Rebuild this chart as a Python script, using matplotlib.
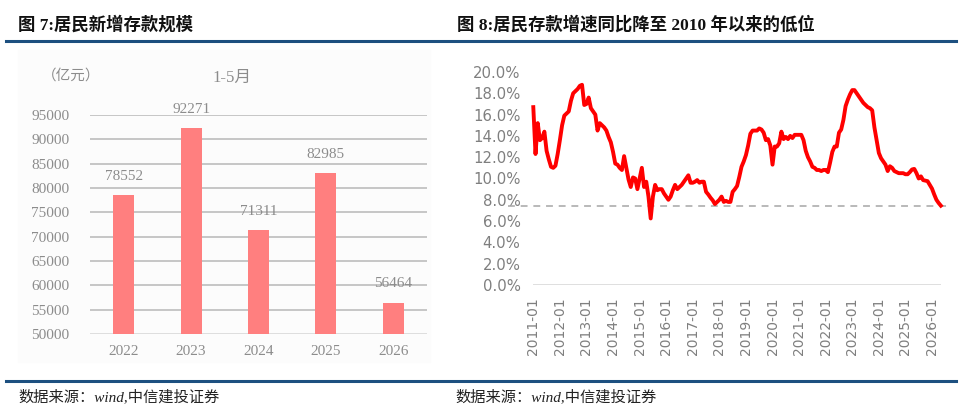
import numpy as np
import matplotlib
matplotlib.use("Agg")
import matplotlib.pyplot as plt
from matplotlib.lines import Line2D

plt.rcParams['font.family'] = ['DejaVu Sans', 'Noto Sans CJK SC']

# ---------------- data ----------------
bar_years = ['2022', '2023', '2024', '2025', '2026']
bar_values = [78552, 92271, 71311, 82985, 56464]
bar_yticks = [50000, 55000, 60000, 65000, 70000, 75000, 80000, 85000, 90000, 95000]

start_year = 2011
growth_2011 = [16.7, 12.3, 15.2, 13.6, 13.8, 14.4, 12.6, 11.8, 11.1, 11.0, 11.2, 12.3]
growth_2012 = [13.6, 15.0, 15.9, 16.1, 16.3, 17.3, 18.0, 18.2, 18.4, 18.7, 18.8, 16.9]
growth_2013 = [17.0, 17.6, 16.6, 16.3, 16.0, 14.5, 15.2, 15.0, 14.8, 14.5, 13.9, 13.4]
growth_2014 = [12.5, 11.4, 11.3, 11.0, 10.8, 12.1, 11.0, 9.9, 9.2, 10.1, 10.0, 9.0]
growth_2015 = [10.0, 11.0, 9.2, 9.7, 8.3, 6.25, 8.3, 9.4, 8.9, 9.0, 9.0, 8.6]
growth_2016 = [8.3, 8.0, 8.3, 8.9, 9.4, 9.0, 9.2, 9.4, 9.7, 10.0, 10.3, 9.6]
growth_2017 = [9.6, 9.7, 9.85, 9.6, 9.7, 9.7, 8.75, 8.5, 8.2, 7.95, 7.6, 7.8]
growth_2018 = [8.0, 8.3, 7.8, 7.9, 7.8, 7.8, 8.75, 9.0, 9.3, 10.15, 11.1, 11.6]
growth_2019 = [12.2, 13.1, 14.2, 14.5, 14.5, 14.5, 14.7, 14.6, 14.3, 13.6, 13.7, 13.1]
growth_2020 = [11.3, 13.0, 13.0, 13.3, 14.4, 13.7, 13.9, 13.7, 14.0, 13.8, 14.1, 14.1]
growth_2021 = [14.1, 14.1, 13.6, 12.6, 12.0, 11.6, 11.1, 11.0, 10.8, 10.8, 10.7, 10.8]
growth_2022 = [10.8, 10.6, 11.5, 12.5, 13.0, 13.0, 14.3, 14.6, 15.5, 16.8, 17.4, 17.9]
growth_2023 = [18.3, 18.3, 18.0, 17.7, 17.4, 17.1, 16.9, 16.7, 16.6, 16.4, 14.8, 13.6]
growth_2024 = [12.4, 11.9, 11.6, 11.3, 10.7, 11.15, 11.0, 10.7, 10.6, 10.5, 10.5, 10.5]
growth_2025 = [10.4, 10.4, 10.6, 10.85, 10.9, 10.5, 10.0, 10.2, 9.85, 9.8, 9.75, 9.4]
growth_2026 = [9.05, 8.5, 8.0, 7.7, 7.45]
growth = (growth_2011 + growth_2012 + growth_2013 + growth_2014 + growth_2015 +
          growth_2016 + growth_2017 + growth_2018 + growth_2019 + growth_2020 +
          growth_2021 + growth_2022 + growth_2023 + growth_2024 + growth_2025 +
          growth_2026)
tick_years = list(range(2011, 2027))
line_yticks = list(range(0, 21, 2))

# ---------------- figure ----------------
W, H = 960, 409
fig = plt.figure(figsize=(W / 100, H / 100), dpi=100)

def fx(px):
    return px / W

def fy(py):
    return 1 - py / H

title_blue = '#1d5080'
gray_txt = '#8c8c8c'

# faint panel background on left
bg = plt.Rectangle((fx(18), fy(362)), fx(430) - fx(18), fy(50) - fy(362),
                   transform=fig.transFigure, color='#fcfcfc', zorder=-10)
fig.patches.append(bg)

# titles
fig.text(fx(18), fy(25), '图 7:居民新增存款规模', fontsize=12.5, fontweight='bold',
         family=['Liberation Serif', 'Noto Sans CJK SC'], va='center', ha='left', color='#111111')
fig.text(fx(457), fy(25), '图 8:居民存款增速同比降至 2010 年以来的低位', fontsize=12.5,
         fontweight='bold', family=['Liberation Serif', 'Noto Sans CJK SC'],
         va='center', ha='left', color='#111111')

# blue rules
fig.add_artist(Line2D([fx(6), fx(956)], [fy(40.5), fy(40.5)], transform=fig.transFigure,
                      color=title_blue, lw=2.2))
fig.add_artist(Line2D([fx(6), fx(956)], [fy(381), fy(381)], transform=fig.transFigure,
                      color=title_blue, lw=2.2))

# footers
for x0 in (18, 455):
    fig.text(fx(x0), fy(397), '数据来源：wind,中信建投证券', fontsize=11, style='italic',
             family=['Liberation Serif', 'Noto Sans CJK SC'], va='center', ha='left',
             color='#222222')

# ---------------- left bar chart ----------------
ax1 = fig.add_axes([fx(90), fy(334), fx(427) - fx(90), fy(115) - fy(334)])
ax1.set_facecolor('none')
ax1.set_zorder(5)
x = np.arange(len(bar_years))
bars = ax1.bar(x, bar_values, width=0.31, color='#ff7f7f', zorder=3)
ax1.set_xlim(-0.5, len(bar_years) - 0.5)
ax1.set_ylim(bar_yticks[0], bar_yticks[-1])
ax1.set_yticks(bar_yticks)
ax1.set_yticklabels([str(v) for v in bar_yticks])
ax1.set_xticks(x)
ax1.set_xticklabels(bar_years)
for v in bar_yticks[1:]:
    ax1.axhline(v, color='#bdbdbd', lw=1.2, zorder=1)
ax1.axhline(bar_yticks[0], color='#d9d9d9', lw=1.2, zorder=1)
for s in ax1.spines.values():
    s.set_visible(False)
ax1.tick_params(axis='both', length=0, colors=gray_txt, labelsize=11)
ax1.tick_params(axis='y', pad=15)
ax1.tick_params(axis='x', pad=8)
for lab in ax1.get_xticklabels() + ax1.get_yticklabels():
    lab.set_family(['Liberation Serif'])
for xi, v in zip(x, bar_values):
    ax1.annotate(str(v), (xi, v), xytext=(0, 9), textcoords='offset points',
                 ha='center', va='bottom', fontsize=11, color=gray_txt,
                 family=['Liberation Serif'], annotation_clip=False)
fig.text(fx(71), fy(76), '（亿元）', fontsize=10.5, color=gray_txt,
         family=['Noto Sans CJK SC'], ha='center', va='center')
fig.text(fx(232), fy(78), '1-5月', fontsize=12, color=gray_txt,
         family=['Liberation Serif', 'Noto Sans CJK SC'], ha='center', va='center')

# ---------------- right line chart ----------------
px_per_month = (932 - 533.3) / 180.0
left_px, right_px = 508, 948
ax2 = fig.add_axes([fx(left_px), fy(285), fx(right_px) - fx(left_px), fy(72) - fy(285)])
ax2.set_facecolor('none')
months = np.arange(len(growth))
ax2.set_xlim(-(533.3 - left_px) / px_per_month, (right_px - 533.3) / px_per_month)
ax2.set_ylim(line_yticks[0], line_yticks[-1])
ax2.hlines(0, months[0], months[-1], color='#d9d9d9', lw=1.2, zorder=1)
ax2.axhline(growth[-1], color='#a6a6a6', lw=1.1, linestyle=(0, (4.5, 3.8)), zorder=2)
ax2.plot(months, growth, color='#ff0000', lw=2.8, zorder=3, clip_on=False,
         solid_joinstyle='round')
ax2.set_yticks(line_yticks)
ax2.set_yticklabels([f'{v:.1f}%' for v in line_yticks])
ticks = [(yr - start_year) * 12 for yr in tick_years]
ax2.set_xticks(ticks)
ax2.set_xticklabels([f'{yr}-01' for yr in tick_years], rotation=90, va='top', ha='center')
for s in ax2.spines.values():
    s.set_visible(False)
ax2.tick_params(axis='both', length=0, colors='#7f7f7f')
ax2.tick_params(axis='y', labelsize=10.7, pad=-9)
ax2.tick_params(axis='x', labelsize=10, pad=9)

fig.savefig('out.png', dpi=100)
